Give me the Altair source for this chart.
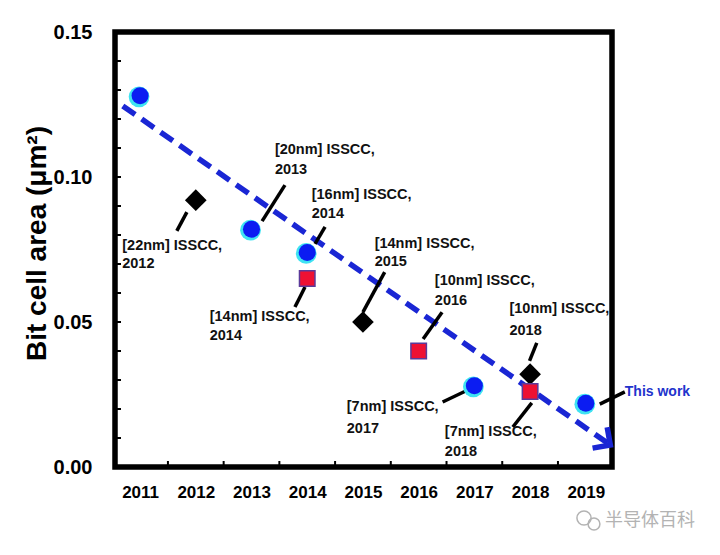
import altair as alt
import pandas as pd

# ---------------- data ----------------
circ_year = [2011, 2013, 2014, 2017, 2019]
circ_val = [0.128, 0.082, 0.074, 0.028, 0.022]

dia_year = [2012, 2015, 2018]
dia_val = [0.092, 0.050, 0.032]

sq_year = [2014, 2016, 2018]
sq_val = [0.065, 0.040, 0.026]

trend_x = [2010.69, 2019.44]
trend_y = [0.1245, 0.0076]

# leader lines (data coordinates)
lead_x = [2011.66, 2013.19, 2014.14, 2013.78, 2015.00, 2016.08, 2017.99, 2016.43, 2017.69, 2019.25]
lead_y = [0.0814, 0.0848, 0.0769, 0.0552, 0.0534, 0.0441, 0.0366, 0.0224, 0.0138, 0.0217]
lead_x2 = [2011.84, 2013.60, 2014.32, 2013.96, 2015.39, 2016.42, 2018.12, 2016.92, 2018.03, 2019.70]
lead_y2 = [0.0879, 0.0972, 0.0828, 0.0621, 0.0672, 0.0534, 0.0428, 0.0269, 0.0221, 0.0259]

# annotation text lines
ann_text = ["[22nm] ISSCC,", "2012",
            "[20nm] ISSCC,", "2013",
            "[16nm] ISSCC,", "2014",
            "[14nm] ISSCC,", "2014",
            "[14nm] ISSCC,", "2015",
            "[10nm] ISSCC,", "2016",
            "[10nm] ISSCC,", "2018",
            "[7nm] ISSCC,", "2017",
            "[7nm] ISSCC,", "2018"]
ann_x = [2010.68, 2010.68, 2013.42, 2013.42, 2014.08, 2014.08, 2012.25, 2012.25,
         2015.21, 2015.21, 2016.29, 2016.29, 2017.63, 2017.63, 2014.71, 2014.71,
         2016.47, 2016.47]
ann_y = [0.0762, 0.0700, 0.1093, 0.1024, 0.0938, 0.0872, 0.0517, 0.0452,
         0.0769, 0.0707, 0.0641, 0.0572, 0.0545, 0.0469, 0.0207, 0.0131,
         0.0121, 0.0052]

work_text = ["This work"]
work_x = [2019.70]
work_y = [0.0259]

x_labels = [2011, 2012, 2013, 2014, 2015, 2016, 2017, 2018, 2019]
y_labels = [0.00, 0.05, 0.10, 0.15]
x_minor = [2011.5, 2012.5, 2013.5, 2014.5, 2015.5, 2016.5, 2017.5, 2018.5]
y_minor = [0.01, 0.02, 0.03, 0.04, 0.05, 0.06, 0.07, 0.08, 0.09, 0.10, 0.11, 0.12, 0.13, 0.14]

watermark = ["半导体百科"]

# ---------------- chart ----------------
W, H = 497, 435
FONT = "Liberation Sans"
xs = alt.Scale(domain=[2010.55, 2019.47], nice=False, zero=False)
ys = alt.Scale(domain=[0, 0.15], nice=False, zero=False)

x_axis = alt.Axis(
    values=x_labels, format="d", title=None, grid=False, ticks=False, domain=False,
    labelFont=FONT, labelFontSize=17, labelFontWeight="bold", labelColor="black",
    labelPadding=17)
y_axis = alt.Axis(
    values=y_labels, format=".2f", grid=False, ticks=False, domain=False,
    labelFont=FONT, labelFontSize=20, labelFontWeight="bold", labelColor="black",
    labelPadding=23,
    title="Bit cell area (μm²)", titleFont=FONT, titleFontSize=28,
    titleFontWeight="bold", titleColor="black", titleX=-78, titleY=211,
    titleBaseline="middle", titleAlign="center", titleAngle=270)

circ_df = pd.DataFrame({"x": circ_year, "y": circ_val})
dia_df = pd.DataFrame({"x": dia_year, "y": dia_val})
sq_df = pd.DataFrame({"x": sq_year, "y": sq_val})
trend_df = pd.DataFrame({"x": trend_x, "y": trend_y})
lead_df = pd.DataFrame({"x": lead_x, "y": lead_y, "x2": lead_x2, "y2": lead_y2})
ann_df = pd.DataFrame({"x": ann_x, "y": ann_y, "t": ann_text})
work_df = pd.DataFrame({"x": work_x, "y": work_y, "t": work_text})
arrow_df = pd.DataFrame({"x": trend_x[1:], "y": trend_y[1:]})
xminor_df = pd.DataFrame({"x": x_minor})
yminor_df = pd.DataFrame({"y": y_minor})

X0 = alt.X("x:Q", scale=xs, axis=x_axis)
Y0 = alt.Y("y:Q", scale=ys, axis=y_axis)

yminor = alt.Chart(yminor_df).mark_rule(color="black", strokeWidth=2).encode(
    y=Y0, x=alt.value(0), x2=alt.value(6))
xminor = alt.Chart(xminor_df).mark_rule(color="black", strokeWidth=2).encode(
    x=X0, y=alt.value(H), y2=alt.value(H - 6))

trend = alt.Chart(trend_df).mark_line(
    color="#1a26d4", strokeWidth=5.5, strokeDash=[15, 8], strokeCap="butt").encode(x=X0, y=Y0)
arrow = alt.Chart(arrow_df).mark_point(
    shape="M-1,-1L0,0L-1,1", filled=False, stroke="#1a26d4", strokeWidth=5.5,
    size=650, angle=35, opacity=1, strokeJoin="miter").encode(x=X0, y=Y0)

leads = alt.Chart(lead_df).mark_rule(color="black", strokeWidth=3.5).encode(
    x=X0, y=Y0, x2="x2:Q", y2="y2:Q")

glow = alt.Chart(circ_df).mark_point(
    shape="circle", filled=True, color="#3fe3f2", size=430, opacity=1, xOffset=-1, yOffset=1
).encode(x=X0, y=Y0)
circ = alt.Chart(circ_df).mark_point(
    shape="circle", filled=True, color="#0b1cf2", size=290, opacity=1).encode(x=X0, y=Y0)
dia = alt.Chart(dia_df).mark_point(
    shape="diamond", filled=True, color="black", size=470, opacity=1).encode(x=X0, y=Y0)
sq = alt.Chart(sq_df).mark_point(
    shape="square", filled=True, fill="#ee1133", stroke="#5b3a9a", strokeWidth=1.5,
    size=240, opacity=1).encode(x=X0, y=Y0)

ann = alt.Chart(ann_df).mark_text(
    align="left", baseline="middle", font=FONT, fontSize=14.5, fontWeight="bold",
    color="#111111").encode(x=X0, y=Y0, text="t:N")
work = alt.Chart(work_df).mark_text(
    align="left", baseline="middle", font=FONT, fontSize=14, fontWeight="bold",
    color="#2233cc").encode(x=X0, y=Y0, text="t:N")

wm_df = pd.DataFrame({"t": watermark})
wm = alt.Chart(wm_df).mark_text(
    align="left", baseline="middle", font="Noto Sans CJK SC", fontSize=18,
    color="#b3b3b3").encode(x=alt.value(490), y=alt.value(489), text="t:N")
icon_df = pd.DataFrame({"px": [469, 479], "py": [486, 492], "s": [200, 140]})
icon = alt.Chart(icon_df).mark_point(
    shape="circle", filled=False, stroke="#b3b3b3", strokeWidth=1.5, opacity=1).encode(
    x=alt.X("px:Q", scale=None), y=alt.Y("py:Q", scale=None),
    size=alt.Size("s:Q", scale=None, legend=None))

chart = alt.layer(
    yminor, xminor, trend, arrow, leads, glow, circ, dia, sq, ann, work, wm, icon
).properties(
    width=W, height=H,
    padding={"left": 107, "top": 24, "right": 100, "bottom": 85},
    autosize=alt.AutoSizeParams(type="none"),
    background="white",
).configure_view(
    stroke="black", strokeWidth=5.5
)

chart.save("out.html", embed_options={"renderer": "svg", "actions": False})
